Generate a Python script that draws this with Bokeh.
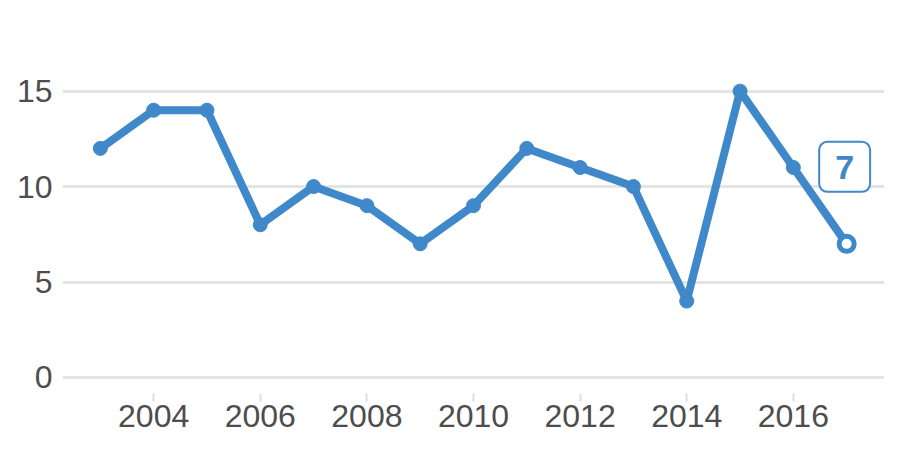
from bokeh.plotting import figure
from bokeh.models import Label, FixedTicker, ColumnDataSource
from bokeh.embed import file_html
from bokeh.resources import INLINE

years = [2003, 2004, 2005, 2006, 2007, 2008, 2009, 2010, 2011, 2012, 2013, 2014, 2015, 2016, 2017]
values = [12, 14, 14, 8, 10, 9, 7, 9, 12, 11, 10, 4, 15, 11, 7]
x_ticks = [2004, 2006, 2008, 2010, 2012, 2014, 2016]
y_ticks = [0, 5, 10, 15]

BLUE = "#3f88c9"
FONT = "Liberation Sans"

p = figure(width=884, height=434, output_backend="svg", toolbar_location=None,
           x_range=(2002.29, 2017.71), y_range=(-0.84, 18.7),
           min_border_left=62, min_border_right=0, min_border_top=20, min_border_bottom=41)
p.outline_line_color = None
p.background_fill_color = "white"

p.xgrid.grid_line_color = None
p.ygrid.grid_line_color = "#e4e4e4"
p.ygrid.grid_line_width = 3
p.yaxis.ticker = FixedTicker(ticks=y_ticks)
p.xaxis.ticker = FixedTicker(ticks=x_ticks)

for ax in (p.xaxis[0], p.yaxis[0]):
    ax.axis_line_color = None
    ax.minor_tick_line_color = None
    ax.major_label_text_font = FONT
    ax.major_label_text_font_size = "32px"
    ax.major_label_text_color = "#4d4d4d"

p.yaxis.major_tick_line_color = None
p.yaxis.major_label_standoff = 4
p.xaxis.major_tick_line_color = "#dddddd"
p.xaxis.major_tick_line_width = 2
p.xaxis.major_tick_in = 0
p.xaxis.major_tick_out = 8
p.xaxis.major_label_standoff = 3

src = ColumnDataSource(dict(x=years, y=values))
p.line("x", "y", source=src, line_color=BLUE, line_width=8, line_join="round")
p.scatter(years[:-1], values[:-1], size=14, fill_color=BLUE, line_color=BLUE)
p.scatter([years[-1]], [values[-1]], size=15, fill_color="white", line_color=BLUE, line_width=5)

lab = Label(x=years[-1], y=values[-1], x_offset=-2, y_offset=77, text=str(values[-1]),
            text_font=FONT, text_font_size="34px", text_font_style="bold",
            text_color=BLUE, text_align="center", text_baseline="middle",
            border_line_color=BLUE, border_line_width=2, background_fill_color="white",
            padding=dict(left=16, right=16, top=14, bottom=13), border_radius=8)
p.add_layout(lab)

open("out.html", "w").write(file_html(p, INLINE))
